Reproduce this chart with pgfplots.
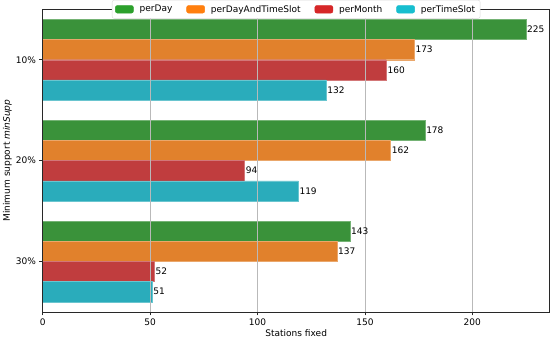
\documentclass[border=0pt]{standalone}
\usepackage{pgfplots}
\pgfplotsset{compat=1.18}
\usepackage{fontspec}
\setmainfont{DejaVu Sans}
\definecolor{cgreen}{RGB}{58,146,58}
\definecolor{corange}{RGB}{225,129,44}
\definecolor{cred}{RGB}{192,61,62}
\definecolor{ccyan}{RGB}{42,172,187}
\definecolor{lgreen}{RGB}{44,160,44}
\definecolor{lorange}{RGB}{255,127,14}
\definecolor{lred}{RGB}{214,39,40}
\definecolor{lcyan}{RGB}{23,190,207}
\definecolor{spine}{RGB}{40,40,40}
\begin{document}
\fontsize{9}{11}\selectfont
\begin{tikzpicture}
\begin{axis}[
  scale only axis,
  width=506pt, height=302pt,
  xbar, bar width=0.2,
  xmin=0, xmax=236,
  ymin=-0.5, ymax=2.5,
  y dir=reverse,
  ytick={0,1,2},
  yticklabels={10\%,20\%,30\%},
  xtick={0,50,100,150,200},
  /pgf/number format/assume math mode=true,
  tick label style={font=\fontsize{9}{11}\selectfont},
  label style={font=\fontsize{9}{11}\selectfont},
  xlabel={Stations fixed},
  ylabel={Minimum support \textit{minSupp}},
  tick align=outside, tick pos=left,
  major tick length=3.5pt,
  every tick/.style={spine, line width=0.6pt},
  axis line style={spine, line width=0.7pt},
  xmajorgrids,
  grid style={gray!55, line width=0.8pt},
  axis on top,
  nodes near coords,
  nodes near coords align={anchor=west},
  every node near coord/.append style={font=\fontsize{9}{11}\selectfont, inner sep=1pt, text=black},
  legend columns=4,
  legend style={at={(0.5,1)}, anchor=center, draw=gray!30, rounded corners=2pt,
    font=\fontsize{9}{11}\selectfont, inner xsep=3pt, inner ysep=3pt,
    /tikz/every odd column/.append style={column sep=4pt},
    /tikz/every even column/.append style={column sep=12pt}},
  legend cell align=left,
  xlabel style={yshift=2pt},
  ylabel style={yshift=-2pt},
]
\addplot[fill=cgreen, draw=cgreen!70!white, bar shift=-0.3,
  legend image code/.code={\fill[lgreen] (0pt,-3.8pt) rectangle (18pt,3.8pt);}]
  coordinates {(225,0) (178,1) (143,2)};
\addlegendentry{perDay}
\addplot[fill=corange, draw=corange!70!white, bar shift=-0.1,
  legend image code/.code={\fill[lorange] (0pt,-3.8pt) rectangle (18pt,3.8pt);}]
  coordinates {(173,0) (162,1) (137,2)};
\addlegendentry{perDayAndTimeSlot}
\addplot[fill=cred, draw=cred!70!white, bar shift=0.1,
  legend image code/.code={\fill[lred] (0pt,-3.8pt) rectangle (18pt,3.8pt);}]
  coordinates {(160,0) (94,1) (52,2)};
\addlegendentry{perMonth}
\addplot[fill=ccyan, draw=ccyan!70!white, bar shift=0.3,
  legend image code/.code={\fill[lcyan] (0pt,-3.8pt) rectangle (18pt,3.8pt);}]
  coordinates {(132,0) (119,1) (51,2)};
\addlegendentry{perTimeSlot}
\end{axis}
\end{tikzpicture}
\end{document}
